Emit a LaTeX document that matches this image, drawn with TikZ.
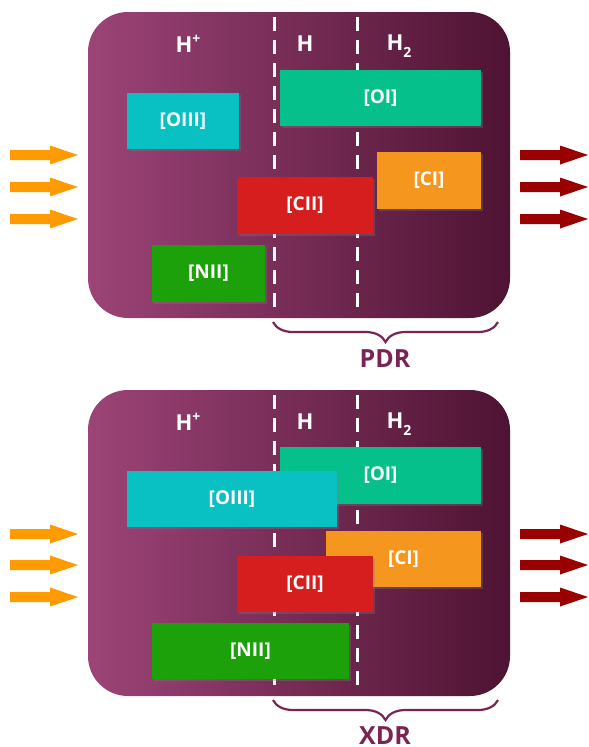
\documentclass[tikz,border=0pt]{standalone}
\usepackage{fontspec}
\setmainfont{Open Sans}
\usetikzlibrary{shadows,decorations.pathreplacing}
\definecolor{bgL}{HTML}{9C4477}
\definecolor{bgR}{HTML}{4E1332}
\definecolor{cOIII}{HTML}{09C0C2}
\definecolor{cOI}{HTML}{06C08C}
\definecolor{cCI}{HTML}{F5961F}
\definecolor{cCII}{HTML}{D61E1E}
\definecolor{cNII}{HTML}{1DA10B}
\definecolor{arrIn}{HTML}{FF9A00}
\definecolor{arrOut}{HTML}{990000}
\definecolor{brc}{HTML}{7B2453}
\tikzset{
  linebox/.style={draw=none, inner sep=0pt, text=white,
    font=\fontsize{19}{22}\selectfont\bfseries,
    drop shadow={opacity=0.3, shadow xshift=2pt, shadow yshift=-2pt}},
  zonelabel/.style={text=white, font=\fontsize{22}{26}\selectfont\bfseries, inner sep=0pt},
  sepline/.style={white, line width=3pt, dash pattern=on 14pt off 9pt},
  regionbrace/.style={brc, line width=2.2pt, decorate,
    decoration={brace, amplitude=20pt, mirror}},
  regionlabel/.style={text=brc, font=\fontsize{25}{30}\selectfont\bfseries, inner sep=0pt},
  flowarrow/.pic={\fill[pic actions] (0,-5)--(40,-5)--(40,-9.5)--(68,0)--(40,9.5)--(40,5)--(0,5)--cycle;}
}
\newcommand{\Hsub}{H\raisebox{-0.55ex}{\fontsize{14}{16}\selectfont 2}}
\newcommand{\Hsup}{H\raisebox{0.75ex}{\fontsize{14}{16}\selectfont +}}
\begin{document}
\begin{tikzpicture}[x=1pt,y=-1pt]
\useasboundingbox (0,0) rectangle (589,747);
% ---------- top panel ----------
\shade[left color=bgL, right color=bgR, rounded corners=40pt] (88,12) rectangle (510,318);
\draw[sepline] (274,17) -- (274,312);
\draw[sepline] (357,17) -- (357,312);
\node[zonelabel] (hp1) at (188,44) {\Hsup};
\node[zonelabel] (h1) at (305,44) {H};
\node[zonelabel] (h21) at (399,46) {\Hsub};
\node[linebox, fill=cOIII, minimum width=112pt, minimum height=56pt] (oiii1) at (183,121) {[OIII]};
\node[linebox, fill=cOI, minimum width=201pt, minimum height=56pt] (oi1) at (380.5,98) {[OI]};
\node[linebox, fill=cCI, minimum width=104pt, minimum height=57pt] (ci1) at (429,180.5) {[CI]};
\node[linebox, fill=cCII, minimum width=136pt, minimum height=57pt] (cii1) at (305,205.5) {[CII]};
\node[linebox, fill=cNII, minimum width=113pt, minimum height=57pt] (nii1) at (208.5,273.5) {[NII]};
\foreach \yy in {155,187,219} {
  \pic[fill=arrIn] at (10,\yy) {flowarrow};
  \pic[fill=arrOut] at (520,\yy) {flowarrow};
}
\coordinate (b1l) at (273,322);
\coordinate (b1r) at (498,322);
\draw[regionbrace] (b1l) -- (b1r);
\node[regionlabel] (pdr) at (385,359) {PDR};
% ---------- bottom panel ----------
\shade[left color=bgL, right color=bgR, rounded corners=40pt] (88,390) rectangle (510,696);
\draw[sepline] (274,395) -- (274,690);
\draw[sepline] (357,395) -- (357,690);
\node[zonelabel] (hp2) at (188,422) {\Hsup};
\node[zonelabel] (h2) at (305,422) {H};
\node[zonelabel] (h22) at (399,424) {\Hsub};
\node[linebox, fill=cOI, minimum width=201pt, minimum height=57pt] (oi2) at (380.5,475.5) {[OI]};
\node[linebox, fill=cOIII, minimum width=210pt, minimum height=56pt] (oiii2) at (232,499) {[OIII]};
\node[linebox, fill=cCI, minimum width=155pt, minimum height=56pt] (ci2) at (403.5,559) {[CI]};
\node[linebox, fill=cCII, minimum width=136pt, minimum height=56pt] (cii2) at (305,584) {[CII]};
\node[linebox, fill=cNII, minimum width=197pt, minimum height=56pt] (nii2) at (250.5,651) {[NII]};
\foreach \yy in {534,565,597} {
  \pic[fill=arrIn] at (10,\yy) {flowarrow};
  \pic[fill=arrOut] at (520,\yy) {flowarrow};
}
\coordinate (b2l) at (273,700);
\coordinate (b2r) at (498,700);
\draw[regionbrace] (b2l) -- (b2r);
\node[regionlabel] (xdr) at (385,736) {XDR};
\end{tikzpicture}
\end{document}
